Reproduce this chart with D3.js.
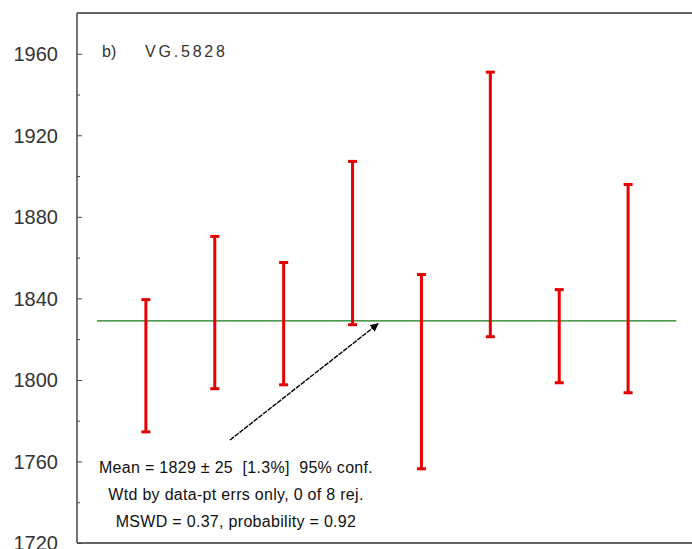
<!DOCTYPE html>
<html><head><meta charset="utf-8">
<script src="https://cdn.jsdelivr.net/npm/d3@7"></script>
<style>body{margin:0;background:#fff;} svg{display:block;} text{white-space:pre;}</style>
</head><body>
<svg id="c" width="692" height="549"></svg>
<script>
const samples = [1,2,3,4,5,6,7,8];
const lowValues  = [1774.5,1795.7,1797.6,1827.1,1756.4,1821.2,1798.6,1793.7];
const highValues = [1839.4,1870.4,1857.6,1907.2,1851.7,1951.0,1844.3,1895.9];
const meanValue = 1829;
const yTicks = [1720,1760,1800,1840,1880,1920,1960];
const yMinor = [1740,1780,1820,1860,1900,1940];
const panelLabel = "b)";
const sampleName = "VG.5828";
const statLines = ["Mean = 1829 ± 25  [1.3%]  95% conf.",
                   "Wtd by data-pt errs only, 0 of 8 rej.",
                   "MSWD = 0.37, probability = 0.92"];

const svg = d3.select("#c");
const L=77, T=13, B=543, R=697;
const x = d3.scaleLinear().domain([0,9]).range([L,R]);
const y = d3.scaleLinear().domain([1720,1980]).range([B,T]);
const font = "Liberation Sans, Arial, sans-serif";

// frame
svg.append("line").attr("x1",L).attr("x2",692).attr("y1",T).attr("y2",T).attr("stroke","#666").attr("stroke-width",2);
svg.append("line").attr("x1",L).attr("x2",692).attr("y1",B).attr("y2",B).attr("stroke","#666").attr("stroke-width",2);
svg.append("line").attr("x1",L).attr("x2",L).attr("y1",T).attr("y2",B).attr("stroke","#444").attr("stroke-width",1.5);

// y axis ticks inward
const ax = svg.append("g").attr("transform",`translate(${L},0)`)
  .call(d3.axisRight(y).tickValues(yTicks).tickSize(5).tickFormat(""));
ax.select(".domain").remove();
ax.selectAll("line").attr("stroke","#444");
const axm = svg.append("g").attr("transform",`translate(${L},0)`)
  .call(d3.axisRight(y).tickValues(yMinor).tickSize(3).tickFormat(""));
axm.select(".domain").remove();
axm.selectAll("line").attr("stroke","#444");
svg.append("g").selectAll("text").data(yTicks).join("text")
  .attr("x",58).attr("y",d=>y(d)).attr("dy","0.36em").attr("text-anchor","end")
  .attr("font-family",font).attr("font-size",20).attr("fill","#333")
  .text(d=>d);

// mean line
svg.append("line").attr("x1",x(0.29)).attr("x2",x(8.7)).attr("y1",y(meanValue)).attr("y2",y(meanValue))
  .attr("stroke","#1a7a1a").attr("stroke-width",1.3);

// error bars
const red="#e60000";
const g = svg.append("g");
samples.forEach((s,i)=>{
  const cx=x(s);
  g.append("line").attr("x1",cx).attr("x2",cx).attr("y1",y(lowValues[i])).attr("y2",y(highValues[i]))
    .attr("stroke",red).attr("stroke-width",3);
  [lowValues[i],highValues[i]].forEach(v=>{
    g.append("line").attr("x1",cx-4.5).attr("x2",cx+4.5).attr("y1",y(v)).attr("y2",y(v))
      .attr("stroke",red).attr("stroke-width",3);
  });
});

// arrow
const ax1=230, ay1=440, ax2=x(4.37), ay2=y(meanValue)+3;
svg.append("defs").append("marker").attr("id","ah").attr("viewBox","0 0 10 10")
  .attr("refX",9).attr("refY",5).attr("markerWidth",6).attr("markerHeight",6).attr("orient","auto")
  .append("path").attr("d","M0,0L10,5L0,10z").attr("fill","#000");
svg.append("line").attr("x1",ax1).attr("y1",ay1).attr("x2",ax2).attr("y2",ay2)
  .attr("stroke","#000").attr("stroke-width",1.4).attr("stroke-dasharray","5,1").attr("marker-end","url(#ah)");

// labels
svg.append("text").attr("x",102).attr("y",57).attr("font-family",font).attr("font-size",16).attr("fill","#333").text(panelLabel);
svg.append("text").attr("x",145).attr("y",57).attr("font-family",font).attr("font-size",16)
  .attr("letter-spacing",2.8).attr("fill","#333").text(sampleName);
svg.append("g").selectAll("text").data(statLines).join("text")
  .attr("x",236).attr("y",(d,i)=>473+i*27).attr("text-anchor","middle")
  .attr("font-family",font).attr("font-size",16).attr("letter-spacing",0.3).attr("fill","#111")
  .text(d=>d);
</script>
</body></html>
